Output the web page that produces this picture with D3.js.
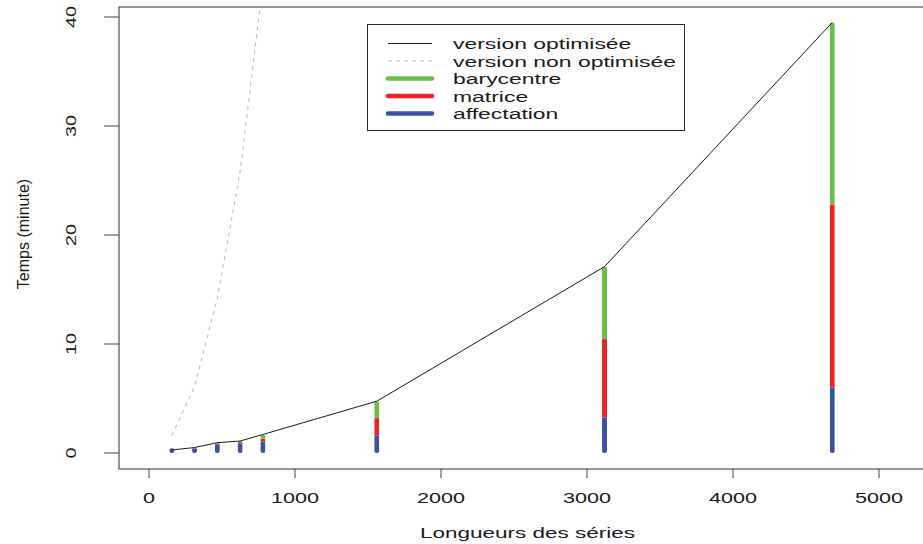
<!DOCTYPE html>
<html>
<head>
<meta charset="utf-8">
<script src="https://cdn.jsdelivr.net/npm/d3@7"></script>
<style>
  body { margin: 0; background: #ffffff; }
  svg { display: block; }
  text { font-family: "Liberation Sans", Arial, sans-serif; fill: #1a1a1a; }
</style>
</head>
<body>
<div id="chart"></div>
<script>
// Series lengths (x) and timings in minutes (y)
var lengths = [156, 312, 468, 624, 780, 1560, 3120, 4680];
var affectation = [0.22, 0.4, 0.8, 0.85, 1.04, 1.6, 3.25, 6.0];
var matrice = [0.04, 0.05, 0.08, 0.15, 0.26, 1.6, 7.2, 16.8];
var barycentre = [0.02, 0.05, 0.07, 0.1, 0.4, 1.55, 6.65, 16.7];
var optimisee = [0.28, 0.5, 0.95, 1.1, 1.7, 4.75, 17.1, 39.5];

var lengthsNonOpt = [156, 312, 468, 624, 780];
var nonOptimisee = [1.6, 6.1, 14.2, 25.8, 43.0];

var xTicks = [0, 1000, 2000, 3000, 4000, 5000];
var yTicks = [0, 10, 20, 30, 40];

var legendLabels = ["version optimisée", "version non optimisée", "barycentre", "matrice", "affectation"];

var colors = {green: "#6cbd45", red: "#ed2229", blue: "#3953a4", grey: "#bdbdbd", black: "#1a1a1a"};

var main = function () {
    "use strict";

    var width = 923, height = 544;
    var box = {left: 119, right: 936, top: 7, bottom: 469};

    var svg = d3.select("#chart").append("svg")
        .attr("width", width)
        .attr("height", height);

    var defs = svg.append("defs");

    // Scales: pixel positions of the ticks measured on the reference
    var x = d3.scaleLinear().domain([0, 5000]).range([149, 879]);
    var y = d3.scaleLinear().domain([0, 40]).range([453, 17]);

    // Clip the curves to the plotting region
    defs.append("clipPath").attr("id", "plotClip")
        .append("rect")
        .attr("x", box.left).attr("y", box.top)
        .attr("width", box.right - box.left).attr("height", box.bottom - box.top);

    var plot = svg.append("g").attr("clip-path", "url(#plotClip)");

    // Non optimised version (dashed grey)
    var line = d3.line()
        .x(function (d) { return x(d.x); })
        .y(function (d) { return y(d.y); });

    plot.append("path")
        .datum(lengthsNonOpt.map(function (v, i) { return {x: v, y: nonOptimisee[i]}; }))
        .attr("fill", "none")
        .attr("stroke", colors.grey)
        .attr("stroke-width", 1.1)
        .attr("stroke-dasharray", "4,4")
        .attr("d", line);

    // Stacked bars per length: affectation, matrice, barycentre
    var barWidth = 5;
    var minHeight = 5;

    lengths.forEach(function (v, i) {
        var a = affectation[i], m = a + matrice[i], b = m + barycentre[i];
        var px = x(v);
        var y0 = y(0);
        // tiny bars still show a rounded dot; the extra goes to the bottom part
        var extra = Math.max(0, minHeight - (y0 - y(b)));
        var yA = y(a) - extra, yM = y(m) - extra, yB = y(b) - extra;

        defs.append("clipPath").attr("id", "bar" + i)
            .append("rect")
            .attr("x", px - barWidth / 2).attr("y", yB)
            .attr("width", barWidth).attr("height", y0 - yB)
            .attr("rx", barWidth / 2).attr("ry", barWidth / 2);

        var g = plot.append("g").attr("clip-path", "url(#bar" + i + ")");
        var parts = [
            {top: yA, bot: y0, c: colors.blue},
            {top: yM, bot: yA, c: colors.red},
            {top: yB, bot: yM, c: colors.green}
        ];
        g.selectAll("rect").data(parts).enter().append("rect")
            .attr("x", px - barWidth / 2)
            .attr("width", barWidth)
            .attr("y", function (d) { return d.top; })
            .attr("height", function (d) { return Math.max(0, d.bot - d.top); })
            .attr("fill", function (d) { return d.c; });
    });

    // Optimised version (thin black)
    plot.append("path")
        .datum(lengths.map(function (v, i) { return {x: v, y: optimisee[i]}; }))
        .attr("fill", "none")
        .attr("stroke", colors.black)
        .attr("stroke-width", 1)
        .attr("d", line);

    // Box around the plot
    svg.append("rect")
        .attr("x", box.left).attr("y", box.top)
        .attr("width", box.right - box.left).attr("height", box.bottom - box.top)
        .attr("fill", "none")
        .attr("stroke", "#2a2a2a")
        .attr("stroke-width", 1);

    // X axis ticks and labels
    var xAxis = svg.append("g");
    xAxis.selectAll("line").data(xTicks).enter().append("line")
        .attr("x1", function (d) { return x(d); }).attr("x2", function (d) { return x(d); })
        .attr("y1", box.bottom).attr("y2", box.bottom + 9)
        .attr("stroke", "#444").attr("stroke-width", 1);
    xAxis.selectAll("text").data(xTicks).enter().append("text")
        .attr("transform", function (d) { return "translate(" + x(d) + ",503) scale(1.44,1)"; })
        .attr("text-anchor", "middle")
        .style("font-size", "15px")
        .text(function (d) { return d; });

    // Y axis ticks and rotated labels
    var yAxis = svg.append("g");
    yAxis.selectAll("line").data(yTicks).enter().append("line")
        .attr("x1", box.left - 15).attr("x2", box.left)
        .attr("y1", function (d) { return y(d); }).attr("y2", function (d) { return y(d); })
        .attr("stroke", "#444").attr("stroke-width", 1);
    yAxis.selectAll("text").data(yTicks).enter().append("text")
        .attr("transform", function (d) { return "translate(76," + y(d) + ") rotate(-90) scale(1.32,1)"; })
        .attr("text-anchor", "middle")
        .style("font-size", "15px")
        .text(function (d) { return d; });

    // Axis titles
    svg.append("text")
        .attr("transform", "translate(" + ((box.left + box.right) / 2) + ",538) scale(1.5,1)")
        .attr("text-anchor", "middle")
        .style("font-size", "15px")
        .text("Longueurs des séries");

    svg.append("text")
        .attr("transform", "translate(29," + ((box.top + box.bottom) / 2 - 4) + ") rotate(-90)")
        .attr("text-anchor", "middle")
        .style("font-size", "16px")
        .text("Temps (minute)");

    // Legend
    var legend = svg.append("g");
    legend.append("rect")
        .attr("x", 367.5).attr("y", 24.5)
        .attr("width", 317).attr("height", 106)
        .attr("fill", "#ffffff")
        .attr("stroke", "#2a2a2a")
        .attr("stroke-width", 1);

    var legendStyles = [
        {c: colors.black, w: 1, dash: null},
        {c: colors.grey, w: 1, dash: "4,4"},
        {c: colors.green, w: 4.5, dash: null},
        {c: colors.red, w: 4.5, dash: null},
        {c: colors.blue, w: 4.5, dash: null}
    ];

    legendLabels.forEach(function (label, i) {
        var ly = 43.5 + i * 17.5;
        var st = legendStyles[i];
        legend.append("line")
            .attr("x1", 388).attr("x2", 432)
            .attr("y1", ly).attr("y2", ly)
            .attr("stroke", st.c)
            .attr("stroke-width", st.w)
            .attr("stroke-linecap", st.w > 2 ? "round" : "butt")
            .attr("stroke-dasharray", st.dash);
        legend.append("text")
            .attr("transform", "translate(453," + (ly + 5.5) + ") scale(1.48,1)")
            .style("font-size", "15.5px")
            .text(label);
    });
};

main();
</script>
</body>
</html>
